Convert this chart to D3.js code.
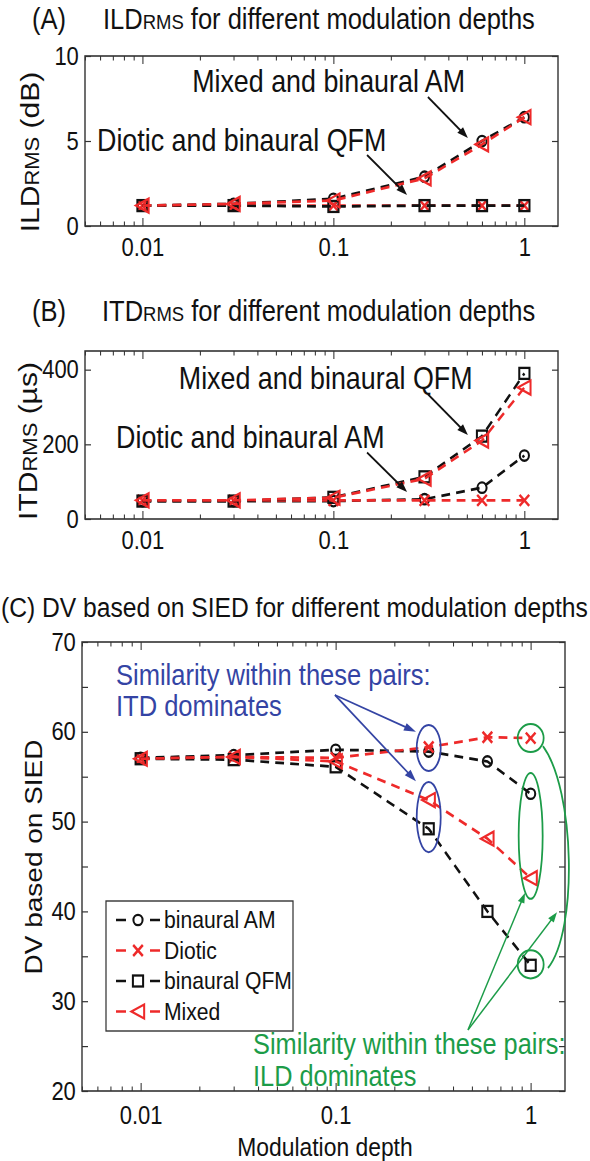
<!DOCTYPE html>
<html>
<head>
<meta charset="utf-8">
<script src="https://cdn.jsdelivr.net/npm/d3@7"></script>
<style>
  body { margin: 0; background: #fff; }
  text { font-family: "Liberation Sans", Arial, sans-serif; }
</style>
</head>
<body>
<div id="chart"></div>
<script>
// modulation depths (x values, shared by all panels)
const depths = [0.01, 0.03, 0.1, 0.3, 0.6, 1];
const seriesNames = ["binaural AM", "Diotic", "binaural QFM", "Mixed"];

// (A) ILD rms in dB
const ildAM     = [1.2, 1.3, 1.6, 2.9, 5.0, 6.4];
const ildDiotic = [1.2, 1.2, 1.2, 1.2, 1.2, 1.2];
const ildQFM    = [1.2, 1.2, 1.15, 1.2, 1.2, 1.2];
const ildMixed  = [1.2, 1.3, 1.5, 2.8, 4.8, 6.4];

// (B) ITD rms in microseconds
const itdAM     = [48, 48, 48, 53, 84, 170];
const itdDiotic = [50, 50, 50, 50, 50, 50];
const itdQFM    = [48, 48, 58, 113, 222, 390];
const itdMixed  = [50, 50, 57, 108, 210, 352];

// (C) DV based on SIED
const dvAM     = [57.1, 57.4, 58.0, 57.8, 56.7, 53.1];
const dvDiotic = [57.0, 57.2, 57.1, 58.3, 59.4, 59.3];
const dvQFM    = [57.0, 56.9, 56.1, 49.2, 40.0, 34.0];
const dvMixed  = [57.0, 57.2, 56.7, 52.4, 48.1, 43.7];

const xTickLabels = [0.01, 0.1, 1];

// the whole figure is squeezed horizontally like the original export
const K = 0.88;
const W = 590, H = 1161;
const BLACK = "#111", RED = "#ee2a2a", BLUE = "#3444a4", GREEN = "#1c9c48";
const u = v => v / K;   // real px -> viewBox units (x only)

const svg = d3.select("#chart").append("svg")
    .attr("width", W).attr("height", H)
    .attr("viewBox", `0 0 ${W / K} ${H}`)
    .attr("preserveAspectRatio", "none");

const styles = [
    {color: BLACK, marker: "circle"},
    {color: RED, marker: "x"},
    {color: BLACK, marker: "square"},
    {color: RED, marker: "tri"}
];

function marker(g, type, color) {
    if (type === "circle") {
        g.append("circle").attr("r", 5.2).attr("fill", "none").attr("stroke", color).attr("stroke-width", 2.3);
    } else if (type === "x") {
        g.append("path").attr("d", "M-5.5,-5.5L5.5,5.5M-5.5,5.5L5.5,-5.5")
            .attr("stroke", color).attr("stroke-width", 2.7);
    } else if (type === "square") {
        g.append("rect").attr("x", -5.8).attr("y", -5.5).attr("width", 11.6).attr("height", 11)
            .attr("fill", "none").attr("stroke", color).attr("stroke-width", 2.3);
    } else {
        g.append("path").attr("d", "M-7.5,0L7,-7L7,7Z")
            .attr("fill", "none").attr("stroke", color).attr("stroke-width", 2.3);
    }
}

function arrow(g, x1, y1, x2, y2, color, sw, hl, hw) {
    // compute in real pixels so the head is not skewed
    const a = Math.atan2(y2 - y1, (x2 - x1) * K);
    const rx2 = x2 * K;
    const bx = rx2 - hl * Math.cos(a), by = y2 - hl * Math.sin(a);
    g.append("line")
        .attr("x1", x1).attr("y1", y1)
        .attr("x2", u(bx + 2 * Math.cos(a))).attr("y2", by + 2 * Math.sin(a))
        .attr("stroke", color).attr("stroke-width", sw);
    const p = [
        [rx2, y2],
        [bx + hw * Math.sin(a), by - hw * Math.cos(a)],
        [bx - hw * Math.sin(a), by + hw * Math.cos(a)]
    ];
    g.append("path").attr("d", "M" + p.map(q => u(q[0]) + "," + q[1]).join("L") + "Z")
        .attr("fill", color);
}

function drawPanel(cfg) {
    const x = d3.scaleLog().domain([0.005, 1.5]).range([u(cfg.left), u(cfg.right)]);
    const y = d3.scaleLinear().domain(cfg.yDomain).range([cfg.bottom, cfg.top]);
    const g = svg.append("g");

    const minor = x.ticks().filter(t => !xTickLabels.some(m => Math.abs(m - t) < 1e-9));

    // axes: ticks inward on all four sides
    const axes = g.append("g").attr("class", "axes");
    axes.append("g").attr("transform", `translate(0,${cfg.bottom})`)
        .call(d3.axisBottom(x).tickValues(minor).tickSize(-4.5).tickSizeOuter(0).tickFormat(""));
    axes.append("g").attr("transform", `translate(0,${cfg.bottom})`)
        .call(d3.axisBottom(x).tickValues(xTickLabels).tickSize(-8).tickSizeOuter(0)
            .tickPadding(cfg.xPad).tickFormat(d3.format("~g")));
    axes.append("g").attr("transform", `translate(0,${cfg.top})`)
        .call(d3.axisTop(x).tickValues(minor).tickSize(-4.5).tickSizeOuter(0).tickFormat(""));
    axes.append("g").attr("transform", `translate(0,${cfg.top})`)
        .call(d3.axisTop(x).tickValues(xTickLabels).tickSize(-8).tickSizeOuter(0).tickFormat(""));
    axes.append("g").attr("transform", `translate(${u(cfg.left)},0)`)
        .call(d3.axisLeft(y).tickValues(cfg.yTicks).tickSize(-u(6)).tickSizeOuter(0).tickPadding(7)
            .tickFormat(d => cfg.yLabels.includes(d) ? d : ""));
    axes.append("g").attr("transform", `translate(${u(cfg.right)},0)`)
        .call(d3.axisRight(y).tickValues(cfg.yTicks).tickSize(-u(6)).tickSizeOuter(0).tickFormat(""));
    axes.selectAll(".domain").remove();
    axes.selectAll("line").attr("stroke", "#333").attr("stroke-width", 1.2);
    axes.selectAll("text").attr("font-size", 25).attr("fill", "#111")
        .attr("font-family", "'Liberation Sans', Arial, sans-serif");

    g.append("rect")
        .attr("x", u(cfg.left)).attr("y", cfg.top)
        .attr("width", u(cfg.right - cfg.left)).attr("height", cfg.bottom - cfg.top)
        .attr("fill", "none").attr("stroke", "#333").attr("stroke-width", 1.6);

    // series
    const line = d3.line().x(d => x(d[0])).y(d => y(d[1]));
    cfg.series.forEach((vals, i) => {
        const pts = depths.map((d, j) => [d, vals[j]]);
        const s = g.append("g");
        s.append("path").attr("d", line(pts))
            .attr("fill", "none").attr("stroke", styles[i].color)
            .attr("stroke-width", 2.7).attr("stroke-dasharray", "10,7");
        pts.forEach(p => {
            marker(s.append("g").attr("transform", `translate(${x(p[0])},${y(p[1])})`),
                styles[i].marker, styles[i].color);
        });
    });

    // titles and labels
    const t = svg.append("text").attr("x", u(cfg.titleX)).attr("y", cfg.titleY)
        .attr("dy", "0.35em").attr("font-size", cfg.titleSize).attr("fill", "#111");
    cfg.title.forEach(part => {
        t.append("tspan").attr("font-size", part.small ? 21 : cfg.titleSize).text(part.text);
    });
    if (cfg.tag) {
        svg.append("text").attr("x", u(32)).attr("y", cfg.titleY).attr("dy", "0.35em")
            .attr("font-size", cfg.titleSize).attr("fill", "#111").text(cfg.tag);
    }
    const yl = svg.append("text")
        .attr("transform", `translate(${u(cfg.yLabelX)},${cfg.yLabelY}) rotate(-90)`)
        .attr("text-anchor", "middle").attr("dy", "0.35em")
        .attr("font-size", cfg.yLabelSize).attr("fill", "#111");
    cfg.yLabel.forEach(part => {
        yl.append("tspan").attr("font-size", part.small ? 22 : cfg.yLabelSize).text(part.text);
    });

    return {g, x, y};
}

// ---------- panel A ----------
const pA = drawPanel({
    left: 85, right: 558, top: 56, bottom: 226, xPad: 12,
    yDomain: [0, 10], yTicks: [0, 5, 10], yLabels: [0, 5, 10],
    series: [ildAM, ildDiotic, ildQFM, ildMixed],
    tag: "(A)", titleX: 103, titleY: 19, titleSize: 29,
    title: [{text: "ILD"}, {text: "RMS", small: true}, {text: " for different modulation depths"}],
    yLabelX: 30, yLabelY: 152, yLabelSize: 30,
    yLabel: [{text: "ILD"}, {text: "RMS", small: true}, {text: " (dB)"}]
});

// ---------- panel B ----------
const pB = drawPanel({
    left: 85, right: 558, top: 351, bottom: 519, xPad: 12,
    yDomain: [0, 450], yTicks: [0, 200, 400], yLabels: [0, 200, 400],
    series: [itdAM, itdDiotic, itdQFM, itdMixed],
    tag: "(B)", titleX: 102, titleY: 311, titleSize: 29,
    title: [{text: "ITD"}, {text: "RMS", small: true}, {text: " for different modulation depths"}],
    yLabelX: 28, yLabelY: 441, yLabelSize: 30,
    yLabel: [{text: "ITD"}, {text: "RMS", small: true}, {text: " (\u00b5s)"}]
});

// ---------- panel C ----------
const pC = drawPanel({
    left: 82, right: 565, top: 642, bottom: 1091, xPad: 15,
    yDomain: [20, 70], yTicks: d3.range(20, 71, 5), yLabels: [20, 30, 40, 50, 60, 70],
    series: [dvAM, dvDiotic, dvQFM, dvMixed],
    tag: null, titleX: 1, titleY: 607, titleSize: 28,
    title: [{text: "(C) DV based on SIED for different modulation depths"}],
    yLabelX: 33, yLabelY: 857, yLabelSize: 28,
    yLabel: [{text: "DV based on SIED"}]
});

svg.append("text").attr("x", u(325)).attr("y", 1147).attr("dy", "0.35em")
    .attr("text-anchor", "middle").attr("font-size", 26).attr("fill", "#111")
    .text("Modulation depth");

// ---------- annotations (data coordinates) ----------
function note(p, xv, yv, txt, color, size) {
    svg.append("text").attr("x", p.x(xv)).attr("y", p.y(yv)).attr("dy", "0.35em")
        .attr("font-size", size).attr("fill", color).text(txt);
}
function noteArrow(p, a, b, color, sw, hl, hw) {
    arrow(svg, p.x(a[0]), p.y(a[1]), p.x(b[0]), p.y(b[1]), color, sw, hl, hw);
}
function ring(p, xv, yv, ryv, rxPx, color) {
    svg.append("ellipse").attr("cx", p.x(xv)).attr("cy", p.y(yv))
        .attr("rx", u(rxPx)).attr("ry", Math.abs(p.y(yv + ryv) - p.y(yv)))
        .attr("fill", "none").attr("stroke", color).attr("stroke-width", 2);
}

note(pA, 0.0182, 8.53, "Mixed and binaural AM", "#111", 30.5);
noteArrow(pA, [0.3125, 7.59], [0.506, 5.18], "#111", 2, 11, 4);
note(pA, 0.00578, 5.06, "Diotic and binaural QFM", "#111", 30.5);
noteArrow(pA, [0.150, 4.18], [0.243, 1.82], "#111", 2, 11, 4);

note(pB, 0.0155, 376, "Mixed and binaural QFM", "#111", 30.5);
noteArrow(pB, [0.3125, 334], [0.506, 225], "#111", 2, 11, 4);
note(pB, 0.00727, 220, "Diotic and binaural AM", "#111", 30.5);
noteArrow(pB, [0.150, 178], [0.243, 72], "#111", 2, 11, 4);

// blue: ITD dominates
note(pC, 0.00747, 66.3, "Similarity within these pairs:", BLUE, 29);
note(pC, 0.00747, 62.9, "ITD dominates", BLUE, 29);
noteArrow(pC, [0.0991, 64.1], [0.258, 60.0], BLUE, 1.8, 12, 4);
noteArrow(pC, [0.0991, 64.1], [0.258, 54.5], BLUE, 1.8, 12, 4);
ring(pC, 0.3, 58.2, 2.56, 12, BLUE);
ring(pC, 0.3, 50.5, 3.9, 12, BLUE);

// green: ILD dominates
ring(pC, 1, 59.3, 1.56, 13, GREEN);
ring(pC, 1, 34.1, 1.56, 13, GREEN);
ring(pC, 1, 48.4, 7.0, 12, GREEN);
const loop = [[1.156, 58.4], [1.69, 53.5], [1.75, 37.9], [1.227, 33.7]].map(d => [pC.x(d[0]), pC.y(d[1])]);
svg.append("path")
    .attr("d", `M${loop[0]}C${loop[1]} ${loop[2]} ${loop[3]}`)
    .attr("fill", "none").attr("stroke", GREEN).attr("stroke-width", 2);
noteArrow(pC, [0.477, 26.8], [0.935, 42.05], GREEN, 1.6, 10, 3.5);
noteArrow(pC, [0.477, 26.8], [1.365, 39.9], GREEN, 1.6, 10, 3.5);
note(pC, 0.0377, 25.2, "Similarity within these pairs:", GREEN, 28.8);
note(pC, 0.0377, 21.7, "ILD dominates", GREEN, 28.8);

// ---------- legend ----------
const lg = svg.append("g");
lg.append("rect").attr("x", u(106)).attr("y", 901).attr("width", u(187)).attr("height", 130)
    .attr("fill", "#fff").attr("stroke", "#333").attr("stroke-width", 1.4);
seriesNames.forEach((name, i) => {
    const yy = 920 + i * 30.5;
    lg.append("line").attr("x1", u(116)).attr("x2", u(160)).attr("y1", yy).attr("y2", yy)
        .attr("stroke", styles[i].color).attr("stroke-width", 2.6)
        .attr("stroke-dasharray", `${u(10)},${u(24)}`);
    marker(lg.append("g").attr("transform", `translate(${u(138)},${yy})`), styles[i].marker, styles[i].color);
    lg.append("text").attr("x", u(164)).attr("y", yy).attr("dy", "0.35em")
        .attr("font-size", 24).attr("fill", "#111").text(name);
});
</script>
</body>
</html>
